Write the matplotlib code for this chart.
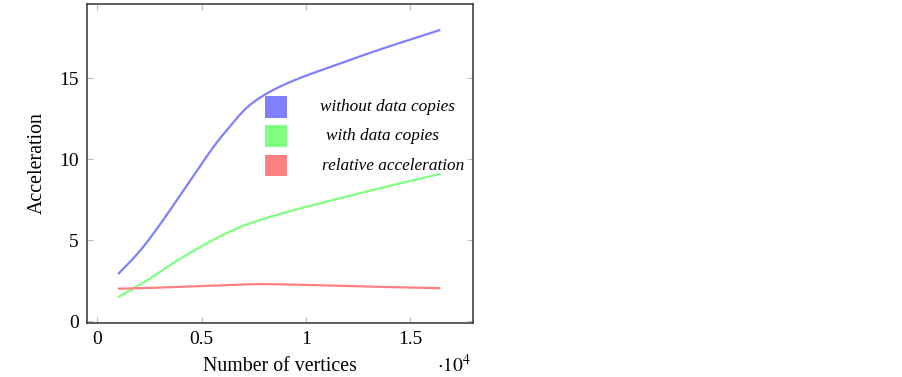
import numpy as np
import matplotlib.pyplot as plt
from matplotlib.patches import Rectangle

vertices = [1024, 2048, 3072, 4096, 6144, 8192, 12288, 16384]
without_copies = [2.95, 4.35, 6.1, 8.0, 11.7, 14.1, 16.2, 17.95]
with_copies = [1.5, 2.25, 3.1, 3.95, 5.4, 6.4, 7.8, 9.07]
relative = [2.0, 2.03, 2.07, 2.12, 2.22, 2.28, 2.15, 2.03]
names = ['without data copies', 'with data copies', 'relative acceleration']
colors = ['#8080ff', '#80ff80', '#ff8080']

plt.rcParams['font.family'] = ['Liberation Serif', 'DejaVu Serif']


def smooth(xs, ys, tension=0.55, n=40):
    # tikz style smooth curve through the points (cubic bezier segments)
    xs = np.asarray(xs, float)
    ys = np.asarray(ys, float)
    px, py = [], []
    for i in range(len(xs) - 1):
        x0, y0 = xs[max(i - 1, 0)], ys[max(i - 1, 0)]
        x1, y1 = xs[i], ys[i]
        x2, y2 = xs[i + 1], ys[i + 1]
        x3, y3 = xs[min(i + 2, len(xs) - 1)], ys[min(i + 2, len(xs) - 1)]
        c1 = (x1 + (x2 - x0) * tension / 3, y1 + (y2 - y0) * tension / 3)
        c2 = (x2 - (x3 - x1) * tension / 3, y2 - (y3 - y1) * tension / 3)
        t = np.linspace(0, 1, n)
        bx = (1 - t)**3 * x1 + 3 * (1 - t)**2 * t * c1[0] + 3 * (1 - t) * t**2 * c2[0] + t**3 * x2
        by = (1 - t)**3 * y1 + 3 * (1 - t)**2 * t * c1[1] + 3 * (1 - t) * t**2 * c2[1] + t**3 * y2
        px.extend(bx)
        py.extend(by)
    return px, py


fig = plt.figure(figsize=(9.02, 3.77), dpi=100)
ax = fig.add_axes([0.0965, 0.1432, 0.4279, 0.8462])

for ys, c in zip([without_copies, with_copies, relative], colors):
    sx, sy = smooth(vertices, ys)
    ax.plot(sx, sy, color=c, lw=1.6)

ax.set_xlim(-500, 18000)
ax.set_ylim(-0.12, 19.57)
ax.set_xticks([0, 5000, 10000, 15000])
ax.set_xticklabels(['0', '0.5', '1', '1.5'])
ax.set_yticks([0, 5, 10, 15])
ax.tick_params(direction='in', length=4, color='#bbbbbb', labelsize=14,
               top=True, right=True, pad=6)
for s in ax.spines.values():
    s.set_color('#333333')
    s.set_linewidth(1.1)

ax.set_xlabel('Number of vertices', fontsize=14.3, labelpad=6)
ax.set_ylabel('Acceleration', fontsize=14.3, labelpad=9)
fig.text(0.484, 0.013, r'$\cdot 10^4$', fontsize=14, math_fontfamily='stix')

# legend drawn as boxes and text inside the axes
text_x = [0.604, 0.619, 0.609]
for i, (name, c) in enumerate(zip(names, colors)):
    y0 = 0.6436 - i * 0.092
    ax.add_patch(Rectangle((0.461, y0), 0.057, 0.068, transform=ax.transAxes,
                           color=c, ec='none'))
    ax.text(text_x[i], y0 + 0.034, name, transform=ax.transAxes, fontsize=12.4,
            style='italic', ha='left', va='center')

fig.savefig('out.png', dpi=100)
